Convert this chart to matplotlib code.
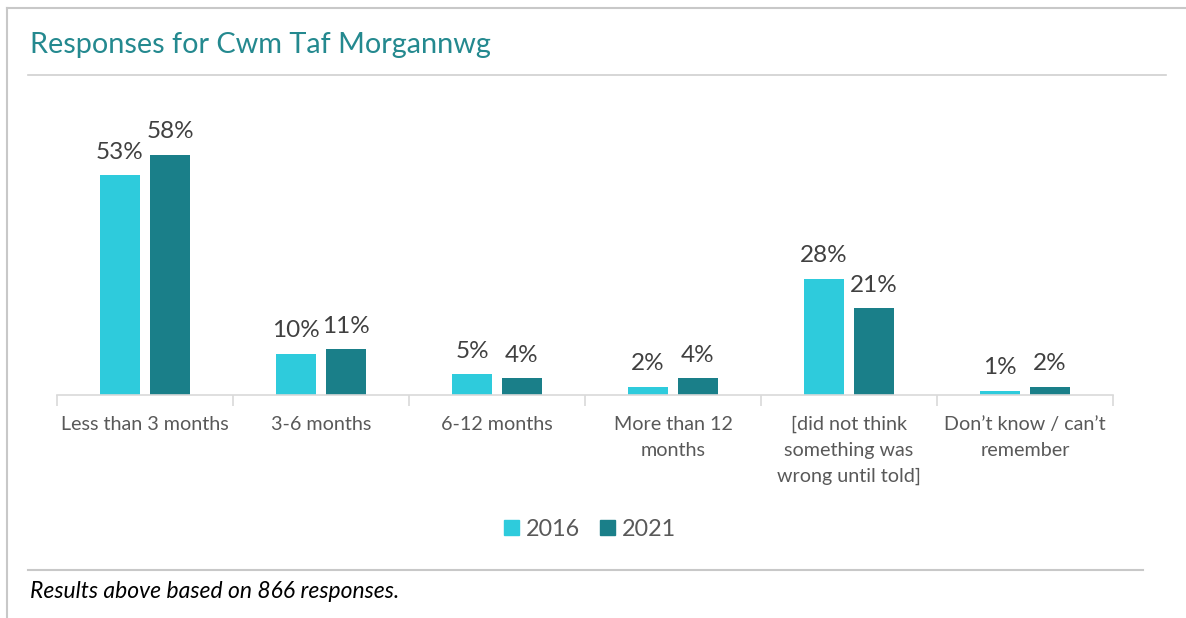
import matplotlib.pyplot as plt
import numpy as np
from matplotlib.patches import Patch
from matplotlib.lines import Line2D

categories = [
    "Less than 3 months",
    "3-6 months",
    "6-12 months",
    "More than 12\nmonths",
    "[did not think\nsomething was\nwrong until told]",
    "Don\u2019t know / can\u2019t\nremember",
]
series_names = ["2016", "2021"]
values_2016 = [53, 10, 5, 2, 28, 1]
values_2021 = [58, 11, 4, 4, 21, 2]

colors = ["#2ECBDC", "#1A7F89"]
title_color = "#24898F"
text_gray = "#595959"

plt.rcParams['font.family'] = ['Lato', 'DejaVu Sans']

W, H = 1186, 618
fig = plt.figure(figsize=(W / 100, H / 100), dpi=100)

def fx(px):
    return px / W

def fy(py):
    return 1 - py / H

# outer frame (top and left edges) and separator lines
fig.add_artist(Line2D([fx(7), 1], [fy(8), fy(8)], color="#C8C8C8", lw=1.5))
fig.add_artist(Line2D([fx(7), fx(7)], [0, fy(8)], color="#C8C8C8", lw=1.5))
fig.add_artist(Line2D([fx(28), fx(1166)], [fy(75), fy(75)], color="#D0D0D0", lw=1.2))
fig.add_artist(Line2D([fx(28), fx(1143)], [fy(570), fy(570)], color="#C8C8C8", lw=1.5))

fig.text(fx(30), fy(45), "Responses for Cwm Taf Morgannwg", color=title_color,
         fontsize=20.8, va="center", ha="left")
fig.text(fx(30), fy(591), "Results above based on 866 responses.", color="black",
         fontsize=16.5, style="italic", va="center", ha="left")

ax = fig.add_axes([fx(57), fy(395), fx(1113) - fx(57), 290 / H])
x = np.arange(len(categories))
width = 0.222
offset = 0.142

for vals, off, c in [(values_2016, -offset, colors[0]), (values_2021, offset, colors[1])]:
    b = ax.bar(x + off, vals, width, color=c, zorder=2)
    for rect, v in zip(b, vals):
        ax.annotate(f"{v}%", (rect.get_x() + rect.get_width() / 2, rect.get_height()),
                    xytext=(0, 9), textcoords="offset points", ha="center", va="bottom",
                    fontsize=17.5, color="#404040")

ax.set_xlim(-0.5, len(categories) - 0.5)
ax.set_ylim(0, 70)
ax.set_yticks([])
for s in ["top", "right", "left"]:
    ax.spines[s].set_visible(False)
ax.spines["bottom"].set_color("#D9D9D9")
ax.spines["bottom"].set_linewidth(1.2)

ax.set_xticks(x)
ax.set_xticklabels(categories, fontsize=14.2, color=text_gray, linespacing=1.62, va="top")
ax.tick_params(axis="x", which="major", length=0, pad=15)
ax.set_xticks(np.arange(-0.5, len(categories)), minor=True)
ax.tick_params(axis="x", which="minor", length=8, color="#D9D9D9", width=1.2)

handles = [Patch(color=c) for c in colors]
fig.legend(handles, series_names, loc="center", bbox_to_anchor=(fx(590), fy(529)),
           ncol=2, frameon=False, fontsize=16.8, handlelength=0.65, handleheight=0.65,
           handletextpad=0.3, columnspacing=0.85, labelcolor=text_gray)

fig.savefig("out.png", dpi=100, facecolor="white")
